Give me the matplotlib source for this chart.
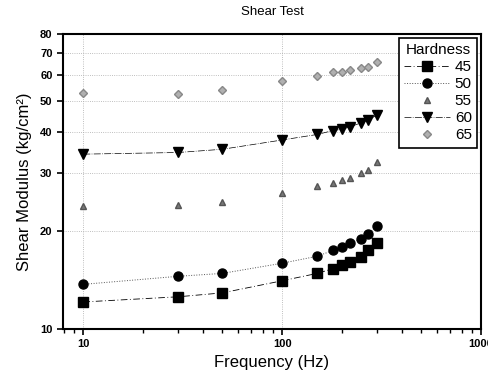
import numpy as np
import matplotlib
matplotlib.use("Agg")
import matplotlib.pyplot as plt
from matplotlib.ticker import FixedLocator, NullFormatter

plt.rcParams['font.family'] = ['Liberation Sans', 'DejaVu Sans']

# data
freq = [10, 30, 50, 100, 150, 180, 200, 220, 250, 270, 300]
h45 = [12.1, 12.55, 12.9, 14.05, 14.8, 15.3, 15.7, 16.0, 16.6, 17.4, 18.3]
h50 = [13.7, 14.5, 14.8, 15.9, 16.7, 17.4, 17.8, 18.3, 18.9, 19.6, 20.6]
h55 = [23.8, 24.0, 24.5, 26.1, 27.4, 27.9, 28.6, 28.9, 30.0, 30.7, 32.4]
h60 = [34.3, 34.7, 35.5, 37.9, 39.4, 40.5, 40.9, 41.6, 42.8, 43.6, 45.2]
h65 = [52.7, 52.4, 53.9, 57.4, 59.5, 61.0, 61.0, 62.1, 62.8, 63.2, 65.8]
hardness = ['45', '50', '55', '60', '65']
yticks = [10, 20, 30, 40, 50, 60, 70, 80]
xticks = [10, 100, 1000]

fig = plt.figure(figsize=(4.89, 3.79), dpi=100)
ax = fig.add_axes([0.1288, 0.1319, 0.8548, 0.7784])

ax.plot(freq, h45, color='black', ls=(0, (8, 3, 1, 3)), lw=0.6,
        marker='s', ms=6.5, label=hardness[0])
ax.plot(freq, h50, color='#555555', ls=':', lw=0.7,
        marker='o', ms=6.5, mfc='black', mec='black', label=hardness[1])
ax.plot(freq, h55, color='#cccccc', ls='none', lw=0.5,
        marker='^', ms=5, mfc='#777777', mec='#555555', label=hardness[2])
ax.plot(freq, h60, color='black', ls=(0, (10, 2, 1, 2)), lw=0.5,
        marker='v', ms=6.5, mfc='black', mec='black', label=hardness[3])
ax.plot(freq, h65, color='#aaaaaa', ls='none',
        marker='D', ms=4.5, mfc='#b0b0b0', mec='#888888', label=hardness[4])

ax.set_xscale('log')
ax.set_yscale('log')
ax.set_xlim(7.9, 1000)
ax.set_ylim(10, 80)

ax.yaxis.set_major_locator(FixedLocator(yticks))
ax.yaxis.set_minor_locator(FixedLocator([]))
ax.set_yticklabels([str(v) for v in yticks], fontsize=8, fontweight='bold')
ax.xaxis.set_major_locator(FixedLocator(xticks))
ax.set_xticklabels([str(v) for v in xticks], fontsize=8, fontweight='bold')
ax.xaxis.set_minor_formatter(NullFormatter())
ax.tick_params(axis='both', which='major', direction='out', length=4, width=1.2)
ax.tick_params(axis='x', which='minor', direction='out', length=3, width=1.0)

ax.grid(True, which='major', color='#aaaaaa', ls=':', lw=0.6)
for s in ax.spines.values():
    s.set_linewidth(1.5)

ax.set_xlabel('Frequency (Hz)', fontsize=12, labelpad=4)
ax.set_ylabel('Shear Modulus (kg/cm\u00b2)', fontsize=12, labelpad=6)
ax.set_title('Shear Test', fontsize=9.5, pad=14)

leg = ax.legend(title='Hardness', loc='upper right', fontsize=11,
                title_fontsize=11, fancybox=False, framealpha=1,
                edgecolor='black', handlelength=3.0, borderpad=0.35,
                labelspacing=0.2, handletextpad=0.3, borderaxespad=0.25)
leg.get_frame().set_linewidth(1.2)

fig.savefig('out.png', dpi=100)
